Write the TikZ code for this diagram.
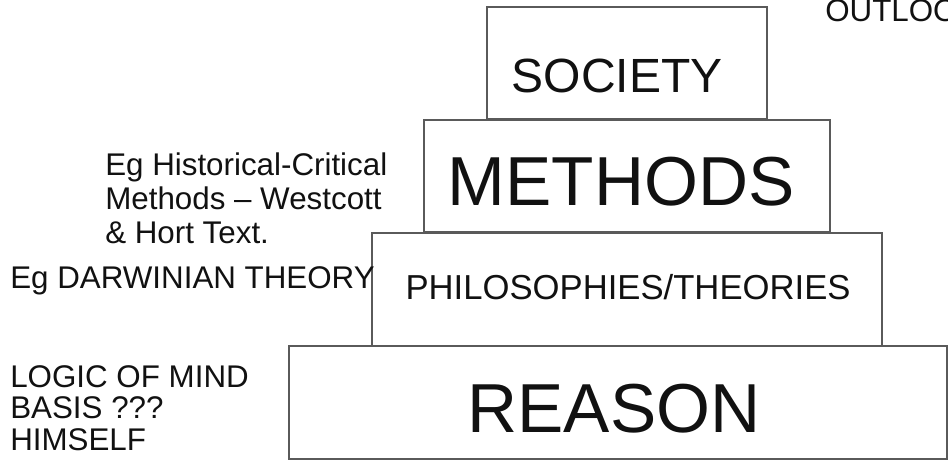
\documentclass[tikz,border=0pt]{standalone}
\usepackage{fontspec}
\setmainfont{Liberation Sans}
\definecolor{edge}{HTML}{5A5A5A}
\definecolor{ink}{HTML}{111111}
\tikzset{
  tier/.style={draw=edge,line width=1pt},
  tierbig/.style={font=\fontsize{52}{52}\selectfont,text=ink,anchor=base,inner sep=0pt},
  tiermid/.style={font=\fontsize{36}{36}\selectfont,text=ink,anchor=base,inner sep=0pt},
  tiersmall/.style={font=\fontsize{26}{26}\selectfont,text=ink,anchor=base,inner sep=0pt},
  note/.style={font=\fontsize{23.5}{23.5}\selectfont,text=ink,anchor=base west,inner sep=0pt}
}
\begin{document}
\begin{tikzpicture}[x=0.75pt,y=-0.75pt]
    \path[use as bounding box] (0,0) rectangle (948,460);
    \clip (0,0) rectangle (948,460);
    % stacked tiers
    \draw[tier] (487,7) rectangle (767,119);
    \draw[tier] (424,120) rectangle (830,232);
    \draw[tier] (372,233) rectangle (882,346);
    \draw[tier] (289,346) rectangle (947,459);
    \node[tiermid] (society) at (617,92) {SOCIETY};
    \node[tierbig] (methods) at (621,205) {METHODS};
    \node[tiersmall] (philo) at (628,299) {PHILOSOPHIES/THEORIES};
    \node[tierbig] (reason) at (614,432) {REASON};
    % side notes
    \node[note] (outlook) at (825,22) {OUTLOOK};
    \node[note] (histA) at (105,175) {Eg Historical-Critical};
    \node[note] (histB) at (105,209) {Methods – Westcott};
    \node[note] (histC) at (105,243) {\& Hort Text.};
    \node[note] (darwin) at (10,288) {Eg DARWINIAN THEORY};
    \node[note] (logicA) at (10,387) {LOGIC OF MIND};
    \node[note] (logicB) at (10,418) {BASIS ???};
    \node[note] (logicC) at (10,450) {HIMSELF};
\end{tikzpicture}
\end{document}
